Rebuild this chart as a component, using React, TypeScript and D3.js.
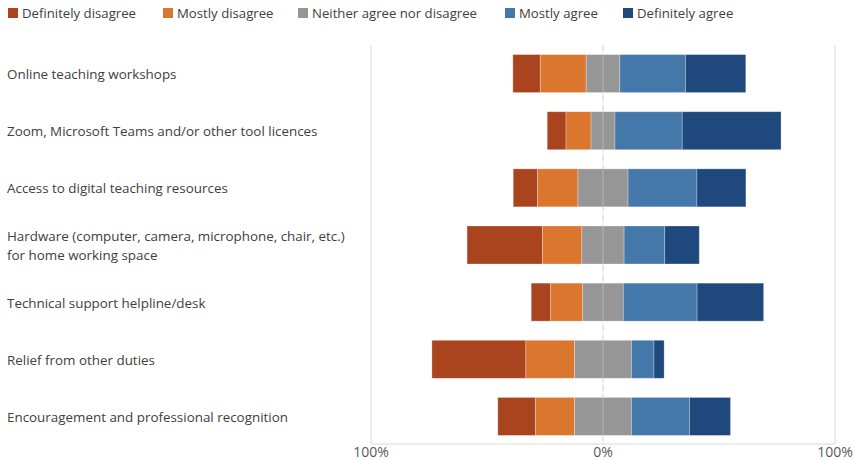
import React from "react";
import * as d3 from "d3";

const categories = [
  "Online teaching workshops",
  "Zoom, Microsoft Teams and/or other tool licences",
  "Access to digital teaching resources",
  "Hardware (computer, camera, microphone, chair, etc.)|for home working space",
  "Technical support helpline/desk",
  "Relief from other duties",
  "Encouragement and professional recognition",
];
const seriesNames = [
  "Definitely disagree",
  "Mostly disagree",
  "Neither agree nor disagree",
  "Mostly agree",
  "Definitely agree",
];
const definitelyDisagree = [11.8, 8.1, 10.5, 32.5, 8.4, 40.5, 16.3];
const mostlyDisagree = [19.8, 10.8, 17.4, 17.0, 13.8, 21.0, 16.8];
const neither = [14.5, 10.3, 21.6, 18.2, 17.5, 24.5, 24.5];
const mostlyAgree = [28.3, 29.0, 29.7, 17.5, 31.8, 9.7, 25.0];
const definitelyAgree = [26.0, 42.6, 21.1, 14.9, 28.7, 4.4, 17.7];
const tickValues = [-100, 0, 100];
const tickLabels = ["100%", "0%", "100%"];
const colors = ["#A9441E", "#DB762F", "#969696", "#4478AA", "#1F497D"];

const W = 855;
const H = 460;
const FONT = "'Open Sans', sans-serif";

export default function App() {
  const x = d3.scaleLinear().domain([-100, 100]).range([371, 835]);
  const y = d3.scaleBand<number>().domain(d3.range(categories.length)).range([45, 445]).paddingInner(0.335).paddingOuter(0.1675);

  const series = [definitelyDisagree, mostlyDisagree, neither, mostlyAgree, definitelyAgree];
  const segments: { i: number; s: number; x0: number; x1: number }[] = [];
  categories.forEach((_, i) => {
    const start = -(series[0][i] + series[1][i] + series[2][i] / 2);
    let acc = start;
    series.forEach((arr, s) => {
      segments.push({ i, s, x0: acc, x1: acc + arr[i] });
      acc += arr[i];
    });
  });

  const legendX = [8, 163, 298, 505, 623];
  const yTop = 45;
  const yBottom = 444;

  return (
    <svg width={W} height={H} style={{ position: "absolute", left: 0, top: 0, background: "#fff" }} fontFamily={FONT}>
      <line x1={x(-100)} x2={x(-100)} y1={yTop} y2={yBottom} stroke="#d9d9d9" strokeWidth={1} />
      <line x1={x(100)} x2={x(100)} y1={yTop} y2={yBottom} stroke="#d9d9d9" strokeWidth={1} />
      <line x1={x(0)} x2={x(0)} y1={yTop} y2={yBottom} stroke="#d9d9d9" strokeWidth={1} strokeDasharray="6,4" />
      <line x1={x(-100)} x2={x(100)} y1={yBottom} y2={yBottom} stroke="#d9d9d9" strokeWidth={1} />
      {segments.map((d, k) => (
        <rect
          key={k}
          x={x(d.x0)}
          width={x(d.x1) - x(d.x0)}
          y={y(d.i)!}
          height={y.bandwidth()}
          fill={colors[d.s]}
          stroke="#ffffff"
          strokeOpacity={0.35}
          strokeWidth={0.8}
        />
      ))}
      <line x1={x(0)} x2={x(0)} y1={yTop} y2={yBottom} stroke="#d9d9d9" strokeWidth={1} strokeOpacity={0.5} />
      {tickValues.map((t, k) => (
        <text key={k} x={x(t)} y={457} textAnchor="middle" fontSize={14} fill="#595959">
          {tickLabels[k]}
        </text>
      ))}
      {categories.map((c, i) => {
        const lines = c.split("|");
        const cy = y(i)! + y.bandwidth() / 2;
        return (
          <text key={i} x={7} fontSize={13.4} fill="#404040">
            {lines.map((l, j) => (
              <tspan key={j} x={7} y={cy + 5.5 + (j - (lines.length - 1) / 2) * 19}>
                {l}
              </tspan>
            ))}
          </text>
        );
      })}
      {seriesNames.map((n, k) => (
        <g key={k}>
          <rect x={legendX[k]} y={8} width={10} height={10} fill={colors[k]} />
          <text x={legendX[k] + 14} y={18} fontSize={13.2} fill="#404040">
            {n}
          </text>
        </g>
      ))}
    </svg>
  );
}
